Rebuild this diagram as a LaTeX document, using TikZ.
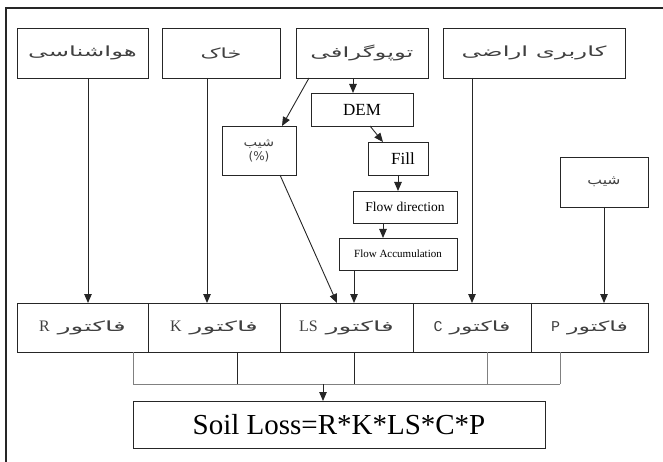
\documentclass[tikz,border=0pt]{standalone}
\usepackage{fontspec}
\usepackage{graphicx}
\setmainfont{Liberation Serif}
\setmonofont{Liberation Mono}
\newfontfamily\fa[Script=Arabic]{DejaVu Sans}
\TeXXeTstate=1
\usetikzlibrary{arrows.meta}
\tikzset{
  box/.style={draw=black!85, line width=0.9pt, inner sep=0pt, outer sep=0pt, rectangle, align=center},
  arr/.style={draw=black!85, line width=0.9pt, -{Triangle[length=9pt,width=7.5pt]}},
  ln/.style={draw=black!85, line width=0.9pt},
  gln/.style={draw=black!50, line width=0.9pt},
  ptxt/.style={font=\fa\fontsize{14}{17}\selectfont, text=black!75},
  ltr/.style={font=\fontsize{16}{18}\selectfont},
}
\begin{document}
\begin{tikzpicture}[x=1pt,y=-1pt]
\useasboundingbox (0,0) rectangle (663,462);
\draw[line width=1.3pt, black!85] (6,470) -- (6,8) -- (670,8);
% top boxes
\node[box, ptxt, minimum width=131, minimum height=50] (met) at (82.5,53) {\scalebox{1.75}[1]{\beginR هواشناسی\endR}};
\node[box, ptxt, minimum width=118, minimum height=50] (soil) at (221,53) {\scalebox{1.6}[1]{\beginR خاک\endR}};
\node[box, ptxt, minimum width=132, minimum height=50] (topo) at (362,53) {\scalebox{1.75}[1]{\beginR توپوگرافی\endR}};
\node[box, ptxt, minimum width=182, minimum height=50] (lu) at (534,53) {\scalebox{1.75}[1]{\beginR کاربری اراضی\endR}};
% middle chain
\node[box, font=\fontsize{17}{20}\selectfont, minimum width=102, minimum height=33] (dem) at (362,109.5) {DEM};
\node[box, font=\fa\fontsize{12}{15}\selectfont, text=black!75, minimum width=74, minimum height=49] (slopep) at (259,150.5) {\scalebox{1.2}[1]{\beginR شیب\endR}\\[-1pt]\beginL(\%)\endL};
\node[box, font=\fontsize{17}{20}\selectfont, minimum width=60, minimum height=33] (fill) at (398,158.5) {\hspace*{10pt}Fill};
\node[box, font=\fontsize{13.5}{16}\selectfont, minimum width=104, minimum height=32] (fd) at (405,207) {Flow direction};
\node[box, font=\fontsize{11}{14}\selectfont, minimum width=118, minimum height=32] (fa) at (398,254) {Flow Accumulation};
\node[box, font=\fa\fontsize{13}{16}\selectfont, text=black!75, minimum width=88, minimum height=50] (slope) at (604,182) {\scalebox{1.2}[1]{\beginR شیب\endR}};
% factor row
\node[box, ptxt, minimum width=131, minimum height=49] (fR) at (82.5,327.5) {{\rmfamily\fontsize{16}{18}\selectfont R}\hspace{8pt}\scalebox{1.9}[1]{\beginR فاکتور\endR}};
\node[box, ptxt, minimum width=132, minimum height=49] (fK) at (214,327.5) {{\rmfamily\fontsize{16}{18}\selectfont K}\hspace{8pt}\scalebox{1.9}[1]{\beginR فاکتور\endR}};
\node[box, ptxt, minimum width=133, minimum height=49] (fLS) at (346.5,327.5) {{\rmfamily\fontsize{16}{18}\selectfont LS}\hspace{8pt}\scalebox{1.9}[1]{\beginR فاکتور\endR}};
\node[box, ptxt, minimum width=118, minimum height=49] (fC) at (472,327.5) {{\ttfamily\fontsize{15}{18}\selectfont C}\hspace{7pt}\scalebox{1.7}[1]{\beginR فاکتور\endR}};
\node[box, ptxt, minimum width=117, minimum height=49] (fP) at (589.5,327.5) {\raisebox{3pt}{{\ttfamily\fontsize{15}{18}\selectfont P}\hspace{7pt}\scalebox{1.7}[1]{\beginR فاکتور\endR}}};
% result
\node[box, font=\fontsize{29}{34}\selectfont, minimum width=412, minimum height=47] (sl) at (339,424.5) {Soil Loss=R*K*LS*C*P};
% x positions
\coordinate (xR) at (88,0);
\coordinate (xK) at (207,0);
\coordinate (xC) at (472,0);
\coordinate (xP) at (604,0);
\coordinate (xT) at (353,0);
\coordinate (xFi) at (398,0);
\coordinate (xFd) at (383,0);
\coordinate (xFa) at (354,0);
\coordinate (xSl) at (323,0);
\coordinate (b1) at (133,384);
\coordinate (b2) at (237,384);
\coordinate (b3) at (354,384);
\coordinate (b4) at (487,384);
\coordinate (b5) at (560,384);
% arrows
\draw[arr] (met.south -| xR) -- (fR.north -| xR);
\draw[arr] (soil.south -| xK) -- (fK.north -| xK);
\draw[arr] (lu.south -| xC) -- (fC.north -| xC);
\draw[arr] (slope.south -| xP) -- (fP.north -| xP);
\draw[arr] (topo.south -| xT) -- (dem.north -| xT);
\draw[arr] ([xshift=-53]topo.south) -- ([xshift=23]slopep.north);
\draw[arr] ([xshift=8]dem.south) -- ([xshift=-15]fill.north);
\draw[arr] (fill.south -| xFi) -- (fd.north -| xFi);
\draw[arr] (fd.south -| xFd) -- (fa.north -| xFd);
\draw[arr] (fa.south -| xFa) -- (fLS.north -| xFa);
\draw[arr] ([xshift=21]slopep.south) -- ([xshift=-9.5]fLS.north);
% bracket
\draw[gln] (fR.south -| b1) -- (b1);
\draw[ln] (fK.south -| b2) -- (b2);
\draw[ln] (fLS.south -| b3) -- (b3);
\draw[gln] (fC.south -| b4) -- (b4);
\draw[gln] (fP.south -| b5) -- (b5);
\draw[gln] (b1) -- (b5);
\draw[arr] (b1 -| xSl) -- (sl.north -| xSl);
\end{tikzpicture}
\end{document}
